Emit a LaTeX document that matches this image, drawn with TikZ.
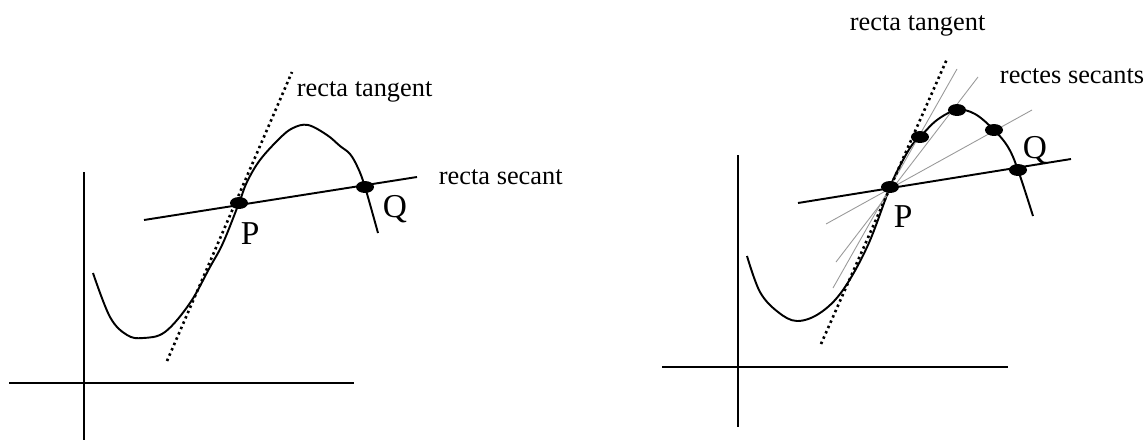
\documentclass[tikz,border=0pt]{standalone}
\usepackage{fontspec}
\setmainfont{Liberation Serif}
\usetikzlibrary{shapes,positioning}
\tikzset{
  ptdot/.style={draw, fill, ellipse, inner sep=0pt, minimum width=0.32cm, minimum height=0.2cm},
  tanline/.style={line width=1.5pt, dash pattern=on 1.4pt off 1.9pt},
  secgray/.style={line width=0.5pt, gray!80},
  lbl/.style={font=\fontsize{15}{18}\selectfont, inner sep=0pt, anchor=base west},
  pqlbl/.style={font=\fontsize{19}{22}\selectfont, inner sep=0pt, anchor=base west}
}
\begin{document}
\begin{tikzpicture}[x=0.02cm, y=-0.02cm, line width=1.1pt]
  \useasboundingbox (0,0) rectangle (1147,440);

  % left graph
  \draw (84,172) -- (84,440);
  \draw (9,383) -- (354,383);
  \draw plot[smooth, tension=0.6] coordinates {(93,273) (110,317) (127,335) (143,338) (165,332)
    (190,303) (210,267) (223,243) (239,203) (247,182) (260,160) (280,138) (293,128) (308,125)
    (327,135) (340,146) (350,154) (358,168) (365,187) (378,233)};
  \coordinate (tA) at (167,361);
  \coordinate (tB) at (292,72);
  \coordinate (sA) at (144,220);
  \coordinate (sB) at (417,177);
  \draw[tanline] (tA) -- (tB);
  \draw (sA) -- (sB);
  \node[ptdot] (P) at (239,203) {};
  \node[ptdot] (Q) at (365,187) {};
  \node[pqlbl] (pL) at (240,244) {P};
  \node[pqlbl] (qL) at (382,217) {Q};
  \node[lbl] (tanL) at (296,96) {recta tangent};
  \node[lbl] (secL) at (438,184) {recta secant};

  % right graph
  \draw (738,155) -- (738,427);
  \draw (662,367) -- (1008,367);
  \draw plot[smooth, tension=0.6] coordinates {(747,256) (760,292) (778,312) (797,321) (820,313)
    (843,290) (868,245) (890,187) (902,162) (912,145) (920,137) (937,120) (957,110) (975,114)
    (994,130) (1008,147) (1018,170) (1033,216)};
  \coordinate (g1A) at (957,69);
  \coordinate (g1B) at (833,288);
  \coordinate (g2A) at (978,77);
  \coordinate (g2B) at (836,262);
  \coordinate (g3A) at (1032,110);
  \coordinate (g3B) at (826,224);
  \draw[secgray] (g1A) -- (g1B);
  \draw[secgray] (g2A) -- (g2B);
  \draw[secgray] (g3A) -- (g3B);
  \coordinate (rtA) at (821,344);
  \coordinate (rtB) at (947,59);
  \coordinate (rsA) at (798,203);
  \coordinate (rsB) at (1071,159);
  \draw[tanline] (rtA) -- (rtB);
  \draw (rsA) -- (rsB);
  \node[ptdot] (P2) at (890,187) {};
  \foreach \x/\y [count=\i] in {920/137, 957/110, 994/130}
    \node[ptdot] (S\i) at (\x,\y) {};
  \node[ptdot] (Q2) at (1018,170) {};
  \node[pqlbl] (pR) at (893,227) {P};
  \node[pqlbl] (qR) at (1022,158) {Q};
  \node[lbl] (tanR) at (849,30) {recta tangent};
  \node[lbl] (secR) at (999,83) {rectes secants};
\end{tikzpicture}
\end{document}
